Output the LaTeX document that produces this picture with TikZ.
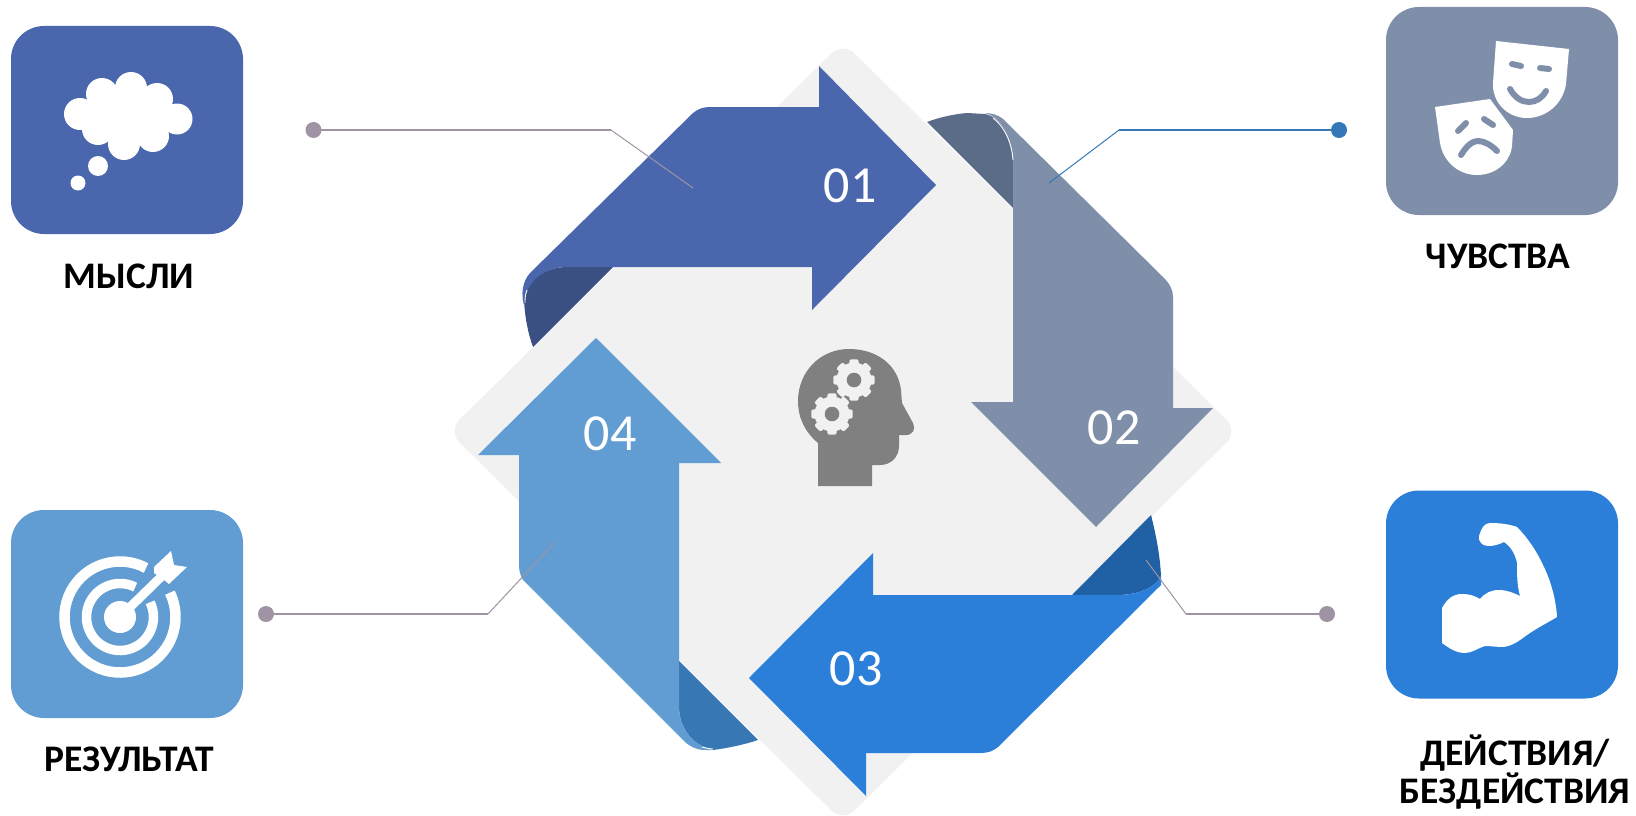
\documentclass[tikz,border=0pt]{standalone}
\usepackage{fontspec}
\setmainfont{Carlito}
\definecolor{blueA}{HTML}{4A67AD}
\definecolor{darkA}{HTML}{3A4F82}
\definecolor{blueB}{HTML}{7F8FAA}
\definecolor{darkB}{HTML}{5A6C87}
\definecolor{blueC}{HTML}{2B7FD9}
\definecolor{darkC}{HTML}{2060A4}
\definecolor{blueD}{HTML}{619DD2}
\definecolor{darkD}{HTML}{3777B3}
\definecolor{plate}{HTML}{F1F1F2}
\definecolor{headgray}{HTML}{808080}
\definecolor{leader}{HTML}{A093A3}
\definecolor{leaderblue}{HTML}{3478B8}
\tikzset{
  iconbox/.style={rectangle,rounded corners=33pt,minimum width=232pt,minimum height=208pt,inner sep=0pt,draw=none},
  caption/.style={font=\fontsize{37.5}{38}\selectfont\bfseries,text=black,inner sep=0pt,align=center},
  numlabel/.style={font=\fontsize{52}{52}\selectfont,text=white,inner sep=0pt},
  enddot/.style={circle,minimum size=16pt,inner sep=0pt,draw=none},
  leadthick/.style={line width=2.4pt},
  leadthin/.style={line width=1pt},
  iconline/.style={line width=6pt,line cap=round},
  foldhighlight/.style={white,line width=0.9pt}
}
\newcommand{\gearicon}[2]{%
  \begin{scope}[shift={(#1,#2)},x=1pt,y=1pt]
    \foreach \a in {0,45,...,315}{
      \fill[plate,rotate=\a,rounded corners=2pt] (-4.6,14) rectangle (4.6,20.7);
    }
    \fill[plate] (0,0) circle[radius=17.5];
    \fill[headgray] (0,0) circle[radius=7.3];
  \end{scope}}
\begin{document}
\begin{tikzpicture}[x=1pt,y=-1pt]
\useasboundingbox (0,0) rectangle (1636,816);
% backing plate
\fill[plate,rounded corners=16pt] (843,42) -- (1238,431) -- (843,822) -- (448,431) -- cycle;
% folds
\fill[darkA] (613,267) -- (567,267) .. controls (545,267) and (526,280) .. (524,300) .. controls (525,318) and (528,333) .. (533,347) -- cycle;
\fill[darkB] (927,122) .. controls (940,117) and (955,114) .. (967,113) -- (985,114) .. controls (1002,117) and (1013,140) .. (1013,163) -- (1013,208) -- cycle;
\fill[darkC] (1072,595) -- (1151,515) .. controls (1156,535) and (1160,555) .. (1161,576) .. controls (1155,588) and (1138,595) .. (1117,595) -- cycle;
\fill[darkD] (679,661) -- (679,707) .. controls (679,725) and (690,745) .. (713,750) .. controls (728,748) and (743,745) .. (758,740) -- cycle;
% arrows
\fill[blueA] (524,305) .. controls (521,295) and (522,282) .. (530,273) -- (693,113) .. controls (698,109) and (703,107) .. (710,107) -- (819,107) -- (819,66) -- (936,185) -- (812,310) -- (812,267) -- (567,267) .. controls (545,267) and (526,280) .. (524,305) -- cycle;
\fill[blueB] (985,113) .. controls (992,113) and (998,115) .. (1003,119) -- (1163,277) .. controls (1170,284) and (1173,290) .. (1173,297) -- (1173,408) -- (1213,408) -- (1096,527) -- (971,402) -- (1013,402) -- (1013,163) .. controls (1013,140) and (1002,117) .. (985,113) -- cycle;
\fill[blueC] (873,595) -- (1117,595) .. controls (1138,595) and (1155,588) .. (1161,576) -- (1161,585) -- (998,747) .. controls (993,751) and (988,753) .. (981,753) -- (866,753) -- (866,796) -- (749,678) -- (873,553) -- cycle;
\fill[blueD] (596,338) -- (721,463) -- (679,463) -- (679,707) .. controls (679,725) and (690,745) .. (713,750) -- (705,750) .. controls (695,750) and (688,745) .. (683,740) -- (523,580) .. controls (520,575) and (519,570) .. (519,565) -- (519,455) -- (478,455) -- cycle;
% small white highlights along the curls
\draw[foldhighlight] (993,118) .. controls (1006,128) and (1012,145) .. (1013,160);
\draw[foldhighlight] (702,747) .. controls (706,748) and (710,749) .. (713,749);
\draw[foldhighlight] (527,290) .. controls (525,295) and (525,299) .. (525,303);
% number labels
\node[numlabel] (n1) at (850,186) {01};
\node[numlabel] (n2) at (1114,428) {02};
\node[numlabel] (n3) at (856,669) {03};
\node[numlabel] (n4) at (610,434) {04};
% central head
\fill[headgray] (818,443) .. controls (805,432) and (798,418) .. (798,401) .. controls (798,372) and (820,349) .. (849,349) .. controls (877,349) and (898,365) .. (901,390) -- (902,403) -- (913,423) .. controls (916,429) and (913,435) .. (906,435) -- (899,435) -- (899,446) .. controls (899,457) and (891,465) .. (880,465) -- (872,465) -- (872,486) -- (818,486) -- cycle;
\gearicon{854}{380}
\gearicon{832}{414}
% icon boxes
\node[iconbox,fill=blueA] (boxA) at (127,130) {};
\node[iconbox,fill=blueB] (boxB) at (1502,111) {};
\node[iconbox,fill=blueC] (boxC) at (1502,594.5) {};
\node[iconbox,fill=blueD] (boxD) at (127,614) {};
% thought cloud
\begin{scope}[white]
  \fill (80,114) circle[radius=16];
  \fill (102,94) circle[radius=16];
  \fill (131,88) circle[radius=16];
  \fill (157,99) circle[radius=16];
  \fill (177,119) circle[radius=15.5];
  \fill (153,136) circle[radius=16];
  \fill (124,144) circle[radius=16];
  \fill (98,129) circle[radius=16];
  \fill (85,109) -- (131,91) -- (175,116) -- (124,141) -- cycle;
  \fill (98,166) circle[radius=10];
  \fill (78,183) circle[radius=7.5];
\end{scope}
% masks
\fill[white] (1435,107) -- (1490,99) -- (1513,130) -- (1512,146) .. controls (1510,163) and (1495,175) .. (1477,175) .. controls (1458,175) and (1443,161) .. (1440,143) -- cycle;
\draw[blueB,iconline] (1458,131) -- (1466,123);
\draw[blueB,iconline] (1484,119) -- (1493,125);
\draw[blueB,iconline] (1461,155) .. controls (1467,145) and (1473,141) .. (1478,141) .. controls (1484,141) and (1491,145) .. (1497,151);
\fill[white,preaction={draw=blueB,line width=7pt}] (1496,41) -- (1569,49) -- (1566,84) .. controls (1563,104) and (1546,118) .. (1527,118) .. controls (1507,118) and (1492,102) .. (1493,83) -- cycle;
\draw[blueB,iconline] (1512,64) -- (1521,66);
\draw[blueB,iconline] (1540,68) -- (1549,69);
\draw[blueB,iconline] (1510,89) .. controls (1515,98) and (1522,102) .. (1529,102) .. controls (1536,102) and (1542,98) .. (1546,91);
% muscle
\fill[white] (1442,608) .. controls (1447,599) and (1453,594) .. (1462,594) .. controls (1470,594) and (1475,596) .. (1480,599) .. controls (1485,593) and (1491,590) .. (1499,590) .. controls (1507,590) and (1514,593) .. (1520,596) .. controls (1517,585) and (1517,575) .. (1517,563) .. controls (1515,553) and (1510,546) .. (1504,542) .. controls (1498,545) and (1493,546) .. (1488,546) .. controls (1482,546) and (1478,541) .. (1479,536) .. controls (1481,529) and (1484,523) .. (1490,523) .. controls (1499,523) and (1509,524) .. (1517,527) .. controls (1528,538) and (1537,552) .. (1543,565) .. controls (1551,581) and (1556,600) .. (1557,617) .. controls (1547,623) and (1537,628) .. (1527,635) .. controls (1520,640) and (1513,646) .. (1503,647) .. controls (1497,647) and (1491,646) .. (1485,646) .. controls (1478,648) and (1472,653) .. (1465,653) .. controls (1456,653) and (1449,648) .. (1442,643) -- cycle;
% target
\begin{scope}[shift={(120,617)},x=1pt,y=1pt]
  \fill[white] (0,0) circle[radius=16];
  \draw[white,line width=10.5pt] (62:55.5) arc[start angle=62,end angle=386,radius=55.5];
  \draw[white,line width=9.5pt] (63:33.5) arc[start angle=63,end angle=386,radius=33.5];
  \draw[white,line width=9pt] (0,0) -- (44,43);
  \fill[white] (51,66) -- (54,52) -- (67,50) -- (49,33) -- (43,38) -- (34,44) -- (34,50) -- cycle;
\end{scope}
% captions
\node[caption,anchor=base] (capA) at (129,288) {МЫСЛИ};
\node[caption,anchor=base] (capB) at (1498,268) {ЧУВСТВА};
\node[caption] (capC) at (1515,772) {ДЕЙСТВИЯ/\\БЕЗДЕЙСТВИЯ};
\node[caption,anchor=base] (capD) at (129.5,771) {РЕЗУЛЬТАТ};
% leaders
\node[enddot,fill=leader] (dotA) at (313.5,130) {};
\node[enddot,fill=leaderblue] (dotB) at (1339,130) {};
\node[enddot,fill=leader] (dotC) at (1327,614) {};
\node[enddot,fill=leader] (dotD) at (266,614) {};
\coordinate (elbowA) at (611,130);
\coordinate (endA) at (693,188);
\coordinate (elbowB) at (1119,130);
\coordinate (endB) at (1049,183);
\coordinate (elbowC) at (1186,614);
\coordinate (endC) at (1146,560);
\coordinate (elbowD) at (488,614);
\coordinate (endD) at (555,542);
\draw[leader,leadthick] (dotA.center) -- (elbowA);
\draw[leader,leadthin] (elbowA) -- (endA);
\draw[leaderblue,leadthick] (dotB.center) -- (elbowB);
\draw[leaderblue,leadthin] (elbowB) -- (endB);
\draw[leader,leadthick] (dotC.center) -- (elbowC);
\draw[leader,leadthin] (elbowC) -- (endC);
\draw[leader,leadthick] (dotD.center) -- (elbowD);
\draw[leader,leadthin] (elbowD) -- (endD);
\end{tikzpicture}
\end{document}
